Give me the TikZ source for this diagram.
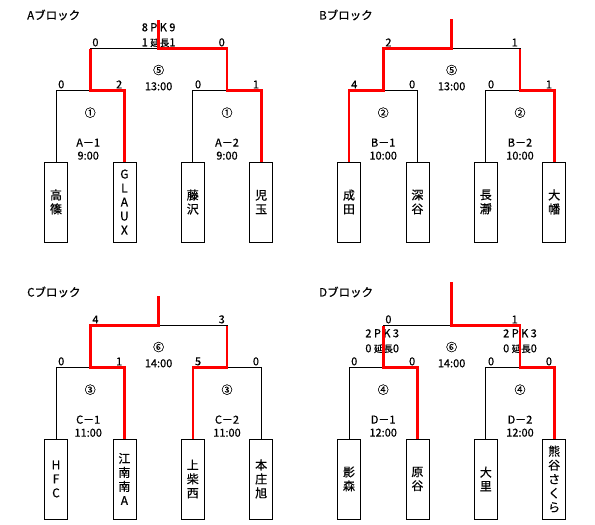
\documentclass[tikz,border=0pt]{standalone}
\usepackage{fontspec}
\setmainfont{Noto Sans CJK JP}[FakeBold=0.6]
\usetikzlibrary{positioning,calc}

\begin{document}
\begin{tikzpicture}[
    x=1pt, y=1pt,
    node distance=44.7pt,
    every node/.style={
        font=\fontsize{10}{12}\selectfont,
        align=center,
        inner sep=2pt
    },
    title/.style={
        anchor=west,
        font=\fontsize{11.5}{13}\selectfont
    },
    team/.style={
        draw=black,
        line width=0.7pt,
        minimum width=23pt,
        minimum height=80pt,
        inner sep=0pt,
        font=\fontsize{12}{14}\selectfont
    },
    score/.style={
        font=\fontsize{11}{12}\selectfont
    },
    match/.style={
        font=\fontsize{11}{16}\selectfont
    },
    game/.style={
        font=\fontsize{11}{13}\selectfont
    },
    extra/.style={
        font=\fontsize{11}{15}\selectfont
    },
    connector/.style={
        draw=black,
        line width=0.7pt
    },
    winner/.style={
        draw=red,
        line width=2.6pt
    }
]

\useasboundingbox (0,0) rectangle (595,525);

% ============================================================
% A block
% ============================================================

\node[title] (atitle) at (25,510) {Aブロック};

\node[team] (a1) at (56,323) {高\\篠};
\node[team, right=of a1] (a2) {G\\L\\A\\U\\X};
\node[team, right=of a2] (a3) {藤\\沢};
\node[team, right=of a3] (a4) {児\\玉};

\coordinate (aL) at ($(a1.north)!0.5!(a2.north)+(0,71)$);
\coordinate (aR) at ($(a3.north)!0.5!(a4.north)+(0,71)$);
\coordinate (aF) at ($(aL)!0.5!(aR)+(0,42)$);
\coordinate (aTop) at ($(aF)+(0,29)$);

\node[score, anchor=south west] at (a1.north |- aL) {0};
\node[score, anchor=south east] at (a2.north |- aL) {2};
\node[score, anchor=south west] at (a3.north |- aR) {0};
\node[score, anchor=south east] at (a4.north |- aR) {1};
\node[score, anchor=south west] at (aL |- aF) {0};
\node[score, anchor=south east] at (aR |- aF) {0};

\node[extra] (apk) at ($(aF)+(0,13.5)$) {8 P K 9\\1 {\fontsize{9.5}{9}\selectfont 延長}1};
\node[match] (afinal) at ($(aF)+(0,-29)$) {⑤\\13:00};
\node[match] (aleft) at ($(aL)+(0,-22)$) {①};
\node[match] (aright) at ($(aR)+(0,-22)$) {①};
\node[game] (agame1) at ($(aL)+(-2,-58.5)$) {A－1\\9:00};
\node[game] (agame2) at ($(aR)+(0,-58.5)$) {A－2\\9:00};

\draw[connector] (a1.north) |- (aL) -| (a2.north);
\draw[connector] (a3.north) |- (aR) -| (a4.north);
\draw[connector] (aL) |- (aF) -| (aR);
\draw[connector] (aF) -- (aTop);

\draw[winner] (a2.north) |- (aL) -- (aL |- aF);
\draw[winner] (a4.north) |- (aR) |- (aF) -- (aTop);

% ============================================================
% B block
% ============================================================

\node[title] (btitle) at (317,510) {Bブロック};

\node[team] (b1) at (349,323) {成\\田};
\node[team, right=of b1] (b2) {深\\谷};
\node[team, right=of b2] (b3) {長\\瀞};
\node[team, right=of b3] (b4) {大\\幡};

\coordinate (bL) at ($(b1.north)!0.5!(b2.north)+(0,71)$);
\coordinate (bR) at ($(b3.north)!0.5!(b4.north)+(0,71)$);
\coordinate (bF) at ($(bL)!0.5!(bR)+(0,42)$);
\coordinate (bTop) at ($(bF)+(0,30)$);

\node[score, anchor=south west] at (b1.north |- bL) {4};
\node[score, anchor=south east] at (b2.north |- bL) {0};
\node[score, anchor=south west] at (b3.north |- bR) {0};
\node[score, anchor=south east] at (b4.north |- bR) {1};
\node[score, anchor=south west] at (bL |- bF) {2};
\node[score, anchor=south east] at (bR |- bF) {1};

\node[match] (bfinal) at ($(bF)+(0,-29)$) {⑤\\13:00};
\node[match] (bleft) at ($(bL)+(0,-22)$) {②};
\node[match] (bright) at ($(bR)+(0,-22)$) {②};
\node[game] (bgame1) at ($(bL)+(0,-58.5)$) {B－1\\10:00};
\node[game] (bgame2) at ($(bR)+(0,-58.5)$) {B－2\\10:00};

\draw[connector] (b1.north) |- (bL) -| (b2.north);
\draw[connector] (b3.north) |- (bR) -| (b4.north);
\draw[connector] (bL) |- (bF) -| (bR);
\draw[connector] (bF) -- (bTop);

\draw[winner] (b1.north) |- (bL) |- (bF) -- (bTop);
\draw[winner] (b4.north) |- (bR) -- (bR |- bF);

% ============================================================
% C block
% ============================================================

\node[title] (ctitle) at (25,233) {Cブロック};

\node[team] (c1) at (56,46) {H\\F\\C};
\node[team, right=of c1] (c2) {江\\南\\南\\A};
\node[team, right=of c2] (c3) {上\\柴\\西};
\node[team, right=of c3] (c4) {本\\庄\\旭};

\coordinate (cL) at ($(c1.north)!0.5!(c2.north)+(0,71)$);
\coordinate (cR) at ($(c3.north)!0.5!(c4.north)+(0,71)$);
\coordinate (cF) at ($(cL)!0.5!(cR)+(0,42)$);
\coordinate (cTop) at ($(cF)+(0,30)$);

\node[score, anchor=south west] at (c1.north |- cL) {0};
\node[score, anchor=south east] at (c2.north |- cL) {1};
\node[score, anchor=south west] at (c3.north |- cR) {5};
\node[score, anchor=south east] at (c4.north |- cR) {0};
\node[score, anchor=south west] at (cL |- cF) {4};
\node[score, anchor=south east] at (cR |- cF) {3};

\node[match] (cfinal) at ($(cF)+(0,-29)$) {⑥\\14:00};
\node[match] (cleft) at ($(cL)+(0,-22)$) {③};
\node[match] (cright) at ($(cR)+(0,-22)$) {③};
\node[game] (cgame1) at ($(cL)+(-2,-58.5)$) {C－1\\11:00};
\node[game] (cgame2) at ($(cR)+(0,-58.5)$) {C－2\\11:00};

\draw[connector] (c1.north) |- (cL) -| (c2.north);
\draw[connector] (c3.north) |- (cR) -| (c4.north);
\draw[connector] (cL) |- (cF) -| (cR);
\draw[connector] (cF) -- (cTop);

\draw[winner] (c2.north) |- (cL) |- (cF) -- (cTop);
\draw[winner] (c3.north) |- (cR) -- (cR |- cF);

% ============================================================
% D block
% ============================================================

\node[title] (dtitle) at (317,233) {Dブロック};

\node[team] (d1) at (349,46) {影\\森};
\node[team, right=of d1] (d2) {原\\谷};
\node[team, right=of d2] (d3) {大\\里};
\node[team, right=of d3] (d4) {熊\\谷\\さ\\く\\ら};

\coordinate (dL) at ($(d1.north)!0.5!(d2.north)+(0,71)$);
\coordinate (dR) at ($(d3.north)!0.5!(d4.north)+(0,71)$);
\coordinate (dF) at ($(dL)!0.5!(dR)+(0,42)$);
\coordinate (dTop) at ($(dF)+(0,44)$);

\node[score, anchor=south west] at (d1.north |- dL) {0};
\node[score, anchor=south east] at (d2.north |- dL) {0};
\node[score, anchor=south west] at (d3.north |- dR) {0};
\node[score, anchor=south east] at (d4.north |- dR) {0};
\node[score, anchor=south west] at (dL |- dF) {0};
\node[score, anchor=south east] at (dR |- dF) {1};

\node[extra] (dpk1) at ($(dL)+(-1,26.5)$) {2 P K 3\\0 {\fontsize{9.5}{9}\selectfont 延長}0};
\node[extra] (dpk2) at ($(dR)+(0,26.5)$) {2 P K 3\\0 {\fontsize{9.5}{9}\selectfont 延長}0};
\node[match] (dfinal) at ($(dF)+(0,-29)$) {⑥\\14:00};
\node[match] (dleft) at ($(dL)+(0,-22)$) {④};
\node[match] (dright) at ($(dR)+(0,-22)$) {④};
\node[game] (dgame1) at ($(dL)+(0,-58.5)$) {D－1\\12:00};
\node[game] (dgame2) at ($(dR)+(0,-58.5)$) {D－2\\12:00};

\draw[connector] (d1.north) |- (dL) -| (d2.north);
\draw[connector] (d3.north) |- (dR) -| (d4.north);
\draw[connector] (dL) |- (dF) -| (dR);
\draw[connector] (dF) -- (dTop);

\draw[winner] (d2.north) |- (dL) -- (dL |- dF);
\draw[winner] (d4.north) |- (dR) |- (dF) -- (dTop);

\end{tikzpicture}
\end{document}
